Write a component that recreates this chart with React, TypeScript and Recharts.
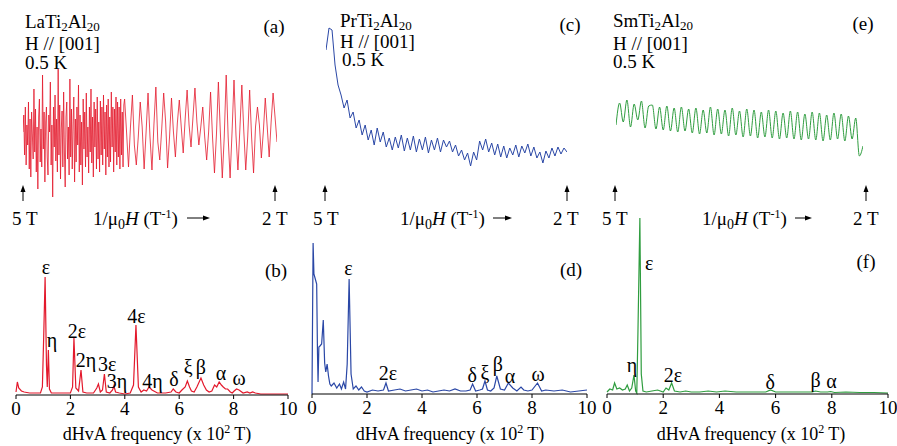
import React from "react";
import { LineChart, Line, XAxis, YAxis, ReferenceDot } from "recharts";

const FONT = "'Liberation Serif', 'Times New Roman', serif";

const RED = "#e3192c";
const BLUE = "#2a47a6";
const GREEN = "#2f9d3f";

// top row: dHvA oscillations vs 1/μ0H, from 5 T (0.2 T^-1) to 2 T (0.5 T^-1), arbitrary units
const laDense = [
  5, 22, -18, 30, -28, 12, -8, 35, -32, 18, -40, 25, 2, -22, 48, -15, 28, -35, 10, -52,
  20, 38, -25, 8, -30, 62, -12, 25, -45, 15, 30, -20, -38, 22, 5, 55, -28, 12, -60, 30,
  -10, 42, -24, 18, -35, 68, -18, 32, -42, 8, 26, -30, 45, -15, -50, 20, 35, -22, 10, -38,
  58, -20, 28, -32, 12, 40, -45, 18, -25, 30, -8, 52, -35, 22, -28, 15, -48, 38, -12, 25,
  -30, 44, -20, 10, -36, 30, -15, 48, -26, 20, -40, 35, -10, 28, -32, 40, -22, 15, -35, 36,
  -18, 30, -28, 42, -12, 25, -38, 32, -20, 38, -30, 20, -25, 45, -10, 30, -35, 28, -15, 40,
  -28, 35, -20, 30, -32, 38, -18, 25, -30, 32,
];
const laRegular = [
  38, 5, -30, 10, 42, -8, -28, 0, 35, 10, -32, 5, 44, 0, -33, 12, 50, -5, -23, 8,
  44, 15, -31, 0, 39, 5, -20, 14, 37, 10, -16, 18, 47, 12, -10, 20, 49, 15, -8, 10,
  30, 0, -23, 5, 45, 0, -36, 2, 55, 5, -41, 0, 62, 0, -41, 5, 57, 2, -33, 8,
  52, 6, -33, 0, 47, 0, -36, 10, 30, 12, -21, 5, 39, 10, -20, 15, 44, 20, -5,
];

const prSignal = [
  120, 142, 140, 105, 85, 75, 62, 70, 52, 58, 42, 50, 35, 45, 30, 40, 25, 42, 28, 38,
  23, 32, 20, 33, 22, 35, 19, 32, 20, 34, 18, 31, 20, 33, 17, 30, 20, 32, 18, 30,
  23, 29, 18, 25, 14, 20, 10, 17, 4, 18, 10, 29, 20, 31, 18, 27, 15, 26, 13, 24,
  12, 22, 15, 25, 13, 24, 17, 26, 14, 23, 12, 18, 7, 19, 12, 22, 14, 23, 16, 22, 18,
];

const smSignal = [
  35, 57, 38, 60, 33, 56, 40, 59, 32, 54,
  55, 31, 53, 30, 54, 29, 52, 28, 53, 29, 51, 27, 52, 26, 50, 27, 53, 25, 51, 26,
  50, 24, 52, 25, 49, 23, 51, 24, 50, 22, 48, 23, 50, 22, 49, 21, 47, 22, 49, 21,
  48, 20, 46, 21, 48, 20, 47, 19, 45, 20, 47, 21, 46, 19,
  44, 21, 42, 4, 14,
];

// bottom row: FFT spectra, frequency in 10^2 T
const freqTicks = [0, 2, 4, 6, 8, 10];

const laFreq = [
  0, 0.05, 0.1, 0.2, 0.3, 0.5, 0.7, 0.9, 0.97, 1.02, 1.07, 1.12, 1.15, 1.19, 1.23, 1.3, 1.5, 1.8, 2.0, 2.08,
  2.13, 2.2, 2.3, 2.39, 2.46, 2.6, 2.85, 2.97, 3.03, 3.1, 3.18, 3.25, 3.32, 3.45, 3.55, 3.6, 3.66, 3.8, 4.0, 4.2,
  4.32, 4.41, 4.5, 4.6, 4.7, 4.8, 4.89, 5.0, 5.2, 5.5, 5.7, 5.78, 5.88, 6.0, 6.1, 6.22, 6.3, 6.38, 6.45, 6.55,
  6.65, 6.8, 6.9, 7.0, 7.1, 7.2, 7.3, 7.38, 7.47, 7.55, 7.62, 7.7, 7.78, 7.88, 7.95, 8.02, 8.11, 8.2, 8.35, 8.5,
  8.6, 8.7, 8.8, 9.0, 9.5, 10,
];
const laAmp = [
  3, 13, 7, 4, 3, 2, 2, 2, 8, 60, 118, 30, 8, 45, 6, 2, 2, 2, 2, 8,
  57, 7, 4, 25, 3, 2, 2, 7, 11, 3, 5, 21, 3, 2, 5, 9, 3, 2, 1, 2,
  10, 70, 8, 3, 5, 4, 8, 5, 2, 2, 3, 6, 3, 2, 5, 8, 14, 8, 4, 3,
  8, 17, 10, 5, 3, 4, 10, 8, 13, 10, 8, 6, 6, 3, 2, 4, 6, 5, 2, 3,
  2, 3, 2, 1, 1, 1,
];
const laLabels: [string, number, number][] = [
  ["ε", 1.1, 128], ["η", 1.32, 55], ["2ε", 2.24, 64], ["2η", 2.57, 35], ["3ε", 3.35, 31],
  ["3η", 3.71, 14], ["4ε", 4.43, 79], ["4η", 5.02, 14], ["δ", 5.81, 16], ["ξ", 6.33, 28],
  ["β", 6.8, 28], ["α", 7.54, 22], ["ω", 8.2, 17],
];

const prFreq = [
  0, 0.04, 0.07, 0.11, 0.17, 0.2, 0.22, 0.25, 0.29, 0.35, 0.41, 0.46, 0.5, 0.55, 0.6, 0.65, 0.7, 0.8, 0.9, 1.0,
  1.07, 1.15, 1.22, 1.28, 1.35, 1.42, 1.5, 1.6, 1.7, 1.8, 1.9, 2.0, 2.2, 2.4, 2.6, 2.69, 2.78, 3.0, 3.2, 3.4,
  3.6, 3.8, 4.0, 4.2, 4.4, 4.6, 4.8, 5.0, 5.2, 5.4, 5.6, 5.75, 5.84, 5.95, 6.1, 6.2, 6.29, 6.38, 6.5, 6.62,
  6.72, 6.85, 7.0, 7.14, 7.3, 7.45, 7.6, 7.7, 7.85, 8.0, 8.2, 8.35, 8.5, 8.8, 9.1, 9.4, 9.7, 10,
];
const prAmp = [
  0, 151, 120, 116, 110, 40, 12, 47, 48, 50, 74, 31, 22, 30, 18, 10, 8, 11, 6, 10,
  5, 12, 5, 30, 115, 20, 5, 8, 4, 7, 3, 2, 4, 3, 4, 11, 3, 4, 5, 3,
  4, 5, 3, 4, 2, 3, 4, 3, 5, 3, 3, 4, 10, 3, 4, 5, 13, 4, 3, 6,
  18, 5, 4, 11, 6, 3, 7, 4, 3, 4, 11, 3, 4, 3, 4, 2, 3, 4,
];
const prLabels: [string, number, number][] = [
  ["ε", 1.33, 126], ["2ε", 2.76, 21], ["δ", 5.83, 19], ["ξ", 6.29, 21],
  ["β", 6.76, 30], ["α", 7.2, 18], ["ω", 8.22, 20],
];

const smFreq = [
  0, 0.1, 0.2, 0.27, 0.35, 0.45, 0.55, 0.65, 0.72, 0.8, 0.88, 0.96, 1.02, 1.06, 1.1, 1.17, 1.22, 1.28, 1.4, 1.6,
  1.8, 2.0, 2.1, 2.2, 2.3, 2.4, 2.6, 2.8, 3.0, 3.3, 3.6, 3.9, 4.2, 4.6, 5.0, 5.4, 5.65, 5.82, 6.0, 6.5,
  7.0, 7.3, 7.42, 7.6, 7.85, 7.96, 8.1, 8.5, 9.0, 9.5, 10,
];
const smAmp = [
  2, 5, 4, 11, 5, 6, 4, 5, 9, 3, 6, 19, 3, 1, 60, 176, 20, 3, 2, 3,
  4, 2, 6, 4, 11, 3, 2, 3, 2, 2, 3, 2, 3, 2, 2, 2, 2, 4, 2, 2,
  2, 2, 3, 2, 2, 2.5, 1.5, 2, 1.5, 1.5, 1,
];
const smLabels: [string, number, number][] = [
  ["ε", 1.5, 131], ["η", 0.89, 29], ["2ε", 2.35, 19], ["δ", 5.81, 12], ["β", 7.42, 14], ["α", 7.99, 13],
];

type Pt = { x: number; v: number };

// spread samples evenly over the 1/μ0H interval [from, to)
function spread(values: number[], from: number, to: number, closed = false): Pt[] {
  const n = closed ? values.length - 1 : values.length;
  return values.map((v, i) => ({ x: from + ((to - from) * i) / n, v }));
}

const laData = [...spread(laDense, 0.2, 0.32), ...spread(laRegular, 0.32, 0.5, true)];
const prData = spread(prSignal, 0.2, 0.5, true);
const smData = spread(smSignal, 0.2, 0.5, true);

type TraceProps = {
  data: Pt[];
  color: string;
  left: number;
  top: number;
  width: number;
  height: number;
  domain: [number, number];
  curve: "linear" | "monotone";
  sw: number;
};

function Trace({ data, color, left, top, width, height, domain, curve, sw }: TraceProps) {
  return (
    <div style={{ position: "absolute", left, top }}>
      <LineChart width={width} height={height} data={data} margin={{ top: 0, right: 0, bottom: 0, left: 0 }}>
        <XAxis dataKey="x" type="number" domain={[0.2, 0.5]} hide />
        <YAxis type="number" domain={domain} hide />
        <Line type={curve} dataKey="v" stroke={color} strokeWidth={sw} dot={false} isAnimationActive={false} />
      </LineChart>
    </div>
  );
}

type SpectrumProps = {
  freq: number[];
  amp: number[];
  labels: [string, number, number][];
  color: string;
  left: number;
  top: number;
  width: number;
  mLeft: number;
  mRight: number;
};

function Spectrum({ freq, amp, labels, color, left, top, width, mLeft, mRight }: SpectrumProps) {
  const data = freq.map((f, i) => ({ f, a: amp[i] }));
  return (
    <div style={{ position: "absolute", left, top }}>
      <LineChart width={width} height={246} data={data} margin={{ top: 9, right: mRight, bottom: 20, left: mLeft }}>
        <XAxis
          dataKey="f"
          type="number"
          domain={[0, 10]}
          ticks={freqTicks}
          interval={0}
          tickSize={4}
          tickMargin={3}
          height={31}
          stroke="#000"
          tick={{ fill: "#000", fontSize: 19, fontFamily: FONT }}
        />
        <YAxis type="number" domain={[0, 186]} hide />
        <Line type="linear" dataKey="a" stroke={color} strokeWidth={1.2} dot={false} isAnimationActive={false} />
        {labels.map(([t, f, a], k) => (
          <ReferenceDot
            key={k}
            x={f}
            y={a}
            r={0}
            shape={(p: any) => (
              <text x={p.cx} y={p.cy} dy="0.35em" textAnchor="middle" fontSize={20} fontFamily={FONT} fill="#000">
                {t}
              </text>
            )}
          />
        ))}
      </LineChart>
    </div>
  );
}

function UpArrow({ x }: { x: number }) {
  return (
    <g>
      <line x1={x} y1={201} x2={x} y2={190} stroke="#000" strokeWidth={1} />
      <polygon points={`${x - 2.5},${192} ${x + 2.5},${192} ${x},${185}`} fill="#000" />
    </g>
  );
}

function RightArrow({ x1, x2 }: { x1: number; x2: number }) {
  return (
    <g>
      <line x1={x1} y1={218} x2={x2 - 5} y2={218} stroke="#000" strokeWidth={1} />
      <polygon points={`${x2 - 7},${215.5} ${x2 - 7},${220.5} ${x2},${218}`} fill="#000" />
    </g>
  );
}

function Compound({ x, y, a, b }: { x: number; y: number; a: string; b: string }) {
  return (
    <text x={x} y={y}>
      {a}
      <tspan dy={3} fontSize={13}>2</tspan>
      <tspan dy={-3}>{b}</tspan>
      <tspan dy={3} fontSize={13}>20</tspan>
    </text>
  );
}

function InvField({ x }: { x: number }) {
  return (
    <text x={x} y={225}>
      1/μ<tspan dy={4} fontSize={14}>0</tspan>
      <tspan dy={-4} fontStyle="italic">H</tspan>
      <tspan> (T</tspan>
      <tspan dy={-7} fontSize={12}>-1</tspan>
      <tspan dy={7}>)</tspan>
    </text>
  );
}

function FreqTitle({ cx }: { cx: number }) {
  return (
    <text x={cx} y={440} textAnchor="middle" fontSize={18}>
      dHvA frequency (x 10<tspan dy={-7} fontSize={12}>2</tspan>
      <tspan dy={7}> T)</tspan>
    </text>
  );
}

export default function App() {
  return (
    <div style={{ position: "absolute", left: 0, top: 0, width: 897, height: 446, background: "#fff", overflow: "hidden" }}>
      <Trace data={laData} color={RED} left={23} top={57} width={254} height={160} domain={[-80, 80]} curve="linear" sw={0.8} />
      <Trace data={prData} color={BLUE} left={326} top={20} width={241} height={150} domain={[0, 150]} curve="linear" sw={1} />
      <Trace data={smData} color={GREEN} left={616} top={80} width={247} height={80} domain={[0, 80]} curve="monotone" sw={1} />

      <Spectrum freq={laFreq} amp={laAmp} labels={laLabels} color={RED} left={0} top={200} width={300} mLeft={16} mRight={12} />
      <Spectrum freq={prFreq} amp={prAmp} labels={prLabels} color={BLUE} left={300} top={199} width={297} mLeft={12} mRight={10} />
      <Spectrum freq={smFreq} amp={smAmp} labels={smLabels} color={GREEN} left={600} top={199} width={297} mLeft={7} mRight={9} />

      <svg
        width={897}
        height={446}
        style={{ position: "absolute", left: 0, top: 0, pointerEvents: "none" }}
        fontFamily={FONT}
        fontSize={19}
        fill="#000"
      >
        <Compound x={25} y={28} a="LaTi" b="Al" />
        <text x={25} y={50}>H // [001]</text>
        <text x={25} y={69}>0.5 K</text>
        <text x={274} y={33} textAnchor="middle">(a)</text>

        <Compound x={340} y={27} a="PrTi" b="Al" />
        <text x={340} y={48}>H // [001]</text>
        <text x={342} y={66}>0.5 K</text>
        <text x={570} y={31} textAnchor="middle">(c)</text>

        <Compound x={613} y={27} a="SmTi" b="Al" />
        <text x={613} y={50}>H // [001]</text>
        <text x={613} y={68}>0.5 K</text>
        <text x={863} y={30} textAnchor="middle">(e)</text>

        <UpArrow x={23} />
        <UpArrow x={275} />
        <UpArrow x={325} />
        <UpArrow x={567} />
        <UpArrow x={615} />
        <UpArrow x={866} />

        <text x={12} y={225}>5 T</text>
        <text x={262} y={225}>2 T</text>
        <text x={313} y={225}>5 T</text>
        <text x={553} y={225}>2 T</text>
        <text x={602} y={225}>5 T</text>
        <text x={853} y={225}>2 T</text>

        <InvField x={93} />
        <RightArrow x1={187} x2={210} />
        <InvField x={400} />
        <RightArrow x1={493} x2={512} />
        <InvField x={702} />
        <RightArrow x1={795} x2={812} />

        <text x={276} y={277} textAnchor="middle">(b)</text>
        <text x={571} y={276} textAnchor="middle">(d)</text>
        <text x={866} y={268} textAnchor="middle">(f)</text>

        <FreqTitle cx={157} />
        <FreqTitle cx={450} />
        <FreqTitle cx={751} />
      </svg>
    </div>
  );
}
